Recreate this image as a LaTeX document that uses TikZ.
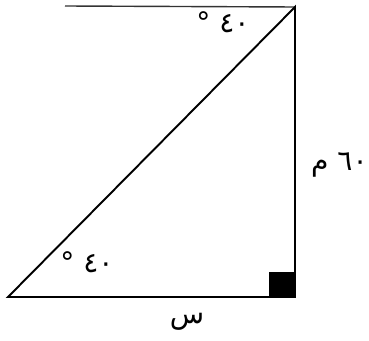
\documentclass[tikz,border=0pt]{standalone}
\usepackage{fontspec}
\newfontfamily\arabicfont[Script=Arabic]{DejaVu Sans}
\TeXXeTstate=1
\usetikzlibrary{positioning}

\begin{document}
\begin{tikzpicture}[
    x=0.02cm, y=-0.02cm,
    font=\arabicfont\fontsize{16}{19}\selectfont,
    side/.style={line width=1.1pt, black},
    lbl/.style={inner sep=0pt}
]
    \useasboundingbox (0,0) rectangle (369,341);

    % Corners
    \coordinate (top) at (295,7);
    \coordinate (left) at (8,297);
    \coordinate (right) at (295,297);
    \coordinate (topleft) at (65,6);

    % Right-angle marker
    \fill[black] (269,272) rectangle (right);

    % Sides
    \draw[line width=0.8pt, black!80] (topleft) -- (top);
    \draw[side] (left) -- (top) -- (right) -- cycle;

    % Labels
    \node[lbl] (angtop) at (223,22) {\beginR ٤٠ °\endR};
    \node[lbl] (angleft) at (87,262) {\beginR ٤٠ °\endR};
    \node[lbl, anchor=east] (height) at (368,165) {\beginR ٦٠ م\endR};
    \node[lbl] (base) at (187,322) {\beginR س\endR};
\end{tikzpicture}
\end{document}
